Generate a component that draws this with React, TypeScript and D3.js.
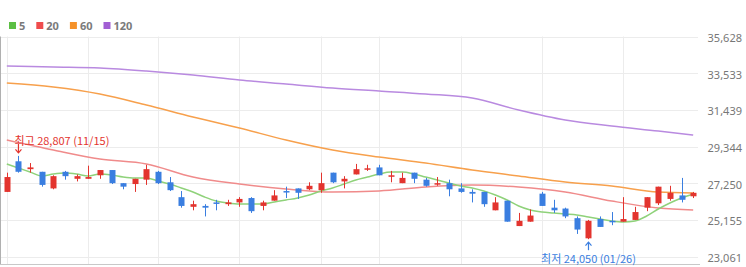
import React from "react";
import * as d3 from "d3";

const W = 746;
const H = 267;

const dates = [
  "11/14","11/15","11/16","11/17","11/18","11/21","11/22","11/23","11/24","11/25",
  "11/28","11/29","11/30","12/01","12/02","12/05","12/06","12/07","12/08","12/09",
  "12/12","12/13","12/14","12/15","12/16","12/19","12/20","12/21","12/22","12/23",
  "12/26","12/27","12/28","12/29","01/02","01/03","01/04","01/05","01/06","01/09",
  "01/10","01/11","01/12","01/13","01/16","01/17","01/18","01/19","01/20","01/25",
  "01/26","01/27","01/30","01/31","02/01","02/02","02/03","02/06","02/07","02/08",
];

const opens = [
  26750,28500,28050,27900,26950,27900,27500,27500,27700,28000,
  27250,27200,27450,27900,27300,26450,25900,25950,26150,26050,
  26150,26400,25950,26250,26800,26950,26900,26850,27850,27350,
  27750,28050,28150,27650,27250,27850,27450,27200,27250,26950,
  26750,26750,25700,26250,24800,25050,26650,25850,25800,25250,
  24100,25200,25100,25050,25150,25850,26100,26350,26550,26500,
];
const highs = [
  27850,28807,28400,27900,27700,27950,27750,28250,28000,28000,
  27250,27500,28300,27950,27600,26800,26250,26050,26300,26300,
  26450,26450,26250,26850,27050,26950,27300,27850,27850,27650,
  28350,28300,28300,27950,27850,27850,27550,27600,27450,27250,
  26900,26750,26450,26250,25550,25750,26750,26300,25850,25350,
  25150,25350,25600,26450,25900,26450,27050,27100,27550,26750,
];
const lows = [
  26750,27850,27850,27050,26900,27450,27350,27500,27500,27200,
  26900,26750,27150,27200,26800,25850,25700,25350,25700,25950,
  25900,25550,25700,26250,26400,26350,26850,26700,27250,26950,
  27750,27950,27700,27300,27250,27250,27050,27100,26500,26700,
  26150,25900,25700,25050,24800,25050,25950,25550,25250,24350,
  24050,24750,24850,25050,25150,25650,26000,26250,26150,26400,
];
const closes = [
  27600,27900,28150,27150,27650,27650,27650,27600,28000,27250,
  27050,27500,28050,27250,26850,25950,26050,25850,26100,26150,
  26350,25650,26150,26550,26750,26700,27100,27250,27300,27500,
  28050,28100,27700,27700,27550,27500,27100,27250,26900,26750,
  26650,26050,26150,25050,25100,25400,25950,25700,25350,24600,
  25100,24750,25050,25200,25600,26450,27050,26700,26300,26700,
];

const ma5 = [
  28345,28116,27888,27659,27774,27831,27774,27659,27774,27716,
  27602,27545,27545,27374,27202,26974,26745,26460,26231,26117,
  26060,26060,26060,26174,26288,26403,26574,26803,26974,27202,
  27431,27602,27774,27888,27888,27774,27602,27431,27259,27088,
  26974,26803,26574,26288,25946,25717,25603,25546,25489,25432,
  25317,25203,25089,25032,25089,25374,25774,26117,26403,26631,
];

const maIdx = [0, 4, 8, 12, 16, 20, 24, 28, 32, 36, 40, 44, 48, 52, 56, 59];
const ma20 = [29716,29145,28630,28345,27602,27202,26917,26745,26803,27031,27145,27031,26745,26231,25831,25717];
const ma60 = [32972,32743,32343,31715,31030,30401,29716,29145,28745,28402,28002,27659,27317,27088,26745,26688];
const ma120 = [33943,33886,33829,33657,33429,33143,32915,32686,32515,32343,32115,31429,30858,30516,30230,30001];

const yTicks = [23061, 25155, 27250, 29344, 31439, 33533, 35628];
const gridDates = ["11/14","11/23","12/01","12/12","12/21","12/28","01/09","01/18","01/31"];

const legendLabels = ["5", "20", "60", "120"];
const legendColors = ["#5cbf43", "#ef4c4c", "#f5922a", "#a25fd4"];
const lineColors = ["#8fd27a", "#f08b8b", "#f7a04c", "#b98ae0"];

const UP = "#e3342e";
const DOWN = "#3a7ee0";

const fmt = d3.format(",");

export default function App() {
  const plotL = 1, plotR = 699, plotT = 36.5, plotB = 256.5;
  const x = d3.scaleBand<string>().domain(dates).range([plotL, plotR]).padding(0);
  const cx = (d: string) => (x(d) as number) + x.bandwidth() / 2;
  const y = d3.scaleLinear().domain([23061, 35628]).range([plotB, plotT]);
  const bodyW = 5;

  const lineAll = d3.line<number>()
    .x((_, i) => cx(dates[i]))
    .y((d) => y(d))
    .curve(d3.curveMonotoneX);
  const lineSparse = d3.line<number>()
    .x((_, i) => cx(dates[maIdx[i]]))
    .y((d) => y(d))
    .curve(d3.curveMonotoneX);

  const hiIdx = d3.maxIndex(highs);
  const loIdx = d3.minIndex(lows);
  const hx = cx(dates[hiIdx]);
  const hy = y(highs[hiIdx]);
  const lx = cx(dates[loIdx]);
  const ly = y(lows[loIdx]);

  let legendX = 9;
  const legendItems = legendLabels.map((l, i) => {
    const item = { l, c: legendColors[i], x: legendX };
    legendX += 17 + l.length * 6.3 + 4;
    return item;
  });

  return (
    <div style={{ position: "absolute", left: 0, top: 0, width: W, height: H, background: "#fff" }}>
      <svg width={W} height={H} style={{ display: "block" }} fontFamily="'Noto Sans', 'Noto Sans CJK KR', sans-serif">
        {/* legend */}
        {legendItems.map((it) => (
          <g key={it.l}>
            <rect x={it.x} y={22} width={7} height={7} fill={it.c} />
            <text x={it.x + 10} y={29.5} fontSize={11} fontWeight="bold" fill="#7a7a7a">{it.l}</text>
          </g>
        ))}

        {/* horizontal gridlines */}
        {yTicks.map((t) => (
          <line key={t} x1={plotL} x2={698} y1={Math.round(y(t)) + 0.5} y2={Math.round(y(t)) + 0.5} stroke="#ececec" strokeWidth={1} />
        ))}
        {/* vertical gridlines */}
        {gridDates.map((d) => (
          <line key={d} x1={Math.round(cx(d)) + 0.5} x2={Math.round(cx(d)) + 0.5} y1={plotT} y2={264} stroke="#ececec" strokeWidth={1} />
        ))}
        {/* borders */}
        <line x1={0.5} x2={0.5} y1={plotT} y2={264.5} stroke="#b0b0b0" />
        <line x1={0} x2={700} y1={264.5} y2={264.5} stroke="#c8c8c8" />

        {/* y labels */}
        {yTicks.map((t) => (
          <text key={t} x={742} y={y(t) + 1} textAnchor="end" dominantBaseline="central" fontSize={11} fill="#777">
            {fmt(t)}
          </text>
        ))}

        {/* moving averages */}
        <path d={lineSparse(ma120) || ""} fill="none" stroke={lineColors[3]} strokeWidth={1.5} />
        <path d={lineSparse(ma60) || ""} fill="none" stroke={lineColors[2]} strokeWidth={1.5} />
        <path d={lineSparse(ma20) || ""} fill="none" stroke={lineColors[1]} strokeWidth={1.5} />
        <path d={lineAll(ma5) || ""} fill="none" stroke={lineColors[0]} strokeWidth={1.5} />

        {/* candles */}
        {dates.map((d, i) => {
          const o = opens[i], c = closes[i], h = highs[i], l = lows[i];
          const col = c >= o ? UP : DOWN;
          const xc = Math.round(cx(d)) + 0.5;
          const top = y(Math.max(o, c));
          const bot = y(Math.min(o, c));
          const bh = Math.max(1.5, bot - top);
          return (
            <g key={d}>
              <line x1={xc} x2={xc} y1={y(h)} y2={y(l)} stroke={col} strokeWidth={1} />
              <rect x={xc - bodyW / 2 - 0.5} y={top} width={bodyW + 1} height={bh} fill={col} />
            </g>
          );
        })}

        {/* high annotation */}
        <text x={hx - 4} y={hy - 16} fontSize={11} fill="#e3342e" dominantBaseline="central"
          fontFamily="'Noto Sans CJK KR', sans-serif">
          {`최고 ${fmt(highs[hiIdx])} (${dates[hiIdx]})`}
        </text>
        <line x1={hx} x2={hx} y1={hy - 12} y2={hy - 3} stroke="#e3342e" strokeWidth={1.2} />
        <polyline points={`${hx - 3},${hy - 6.5} ${hx},${hy - 3} ${hx + 3},${hy - 6.5}`} fill="none" stroke="#e3342e" strokeWidth={1.2} />

        {/* low annotation */}
        <text x={lx} y={ly + 19} fontSize={11} fill="#3a7ee0" textAnchor="middle" dominantBaseline="central"
          fontFamily="'Noto Sans CJK KR', sans-serif">
          {`최저 ${fmt(lows[loIdx])} (${dates[loIdx]})`}
        </text>
        <line x1={lx} x2={lx} y1={ly + 3} y2={ly + 11} stroke="#3a7ee0" strokeWidth={1.2} />
        <polyline points={`${lx - 3},${ly + 6.5} ${lx},${ly + 3} ${lx + 3},${ly + 6.5}`} fill="none" stroke="#3a7ee0" strokeWidth={1.2} />
      </svg>
    </div>
  );
}
